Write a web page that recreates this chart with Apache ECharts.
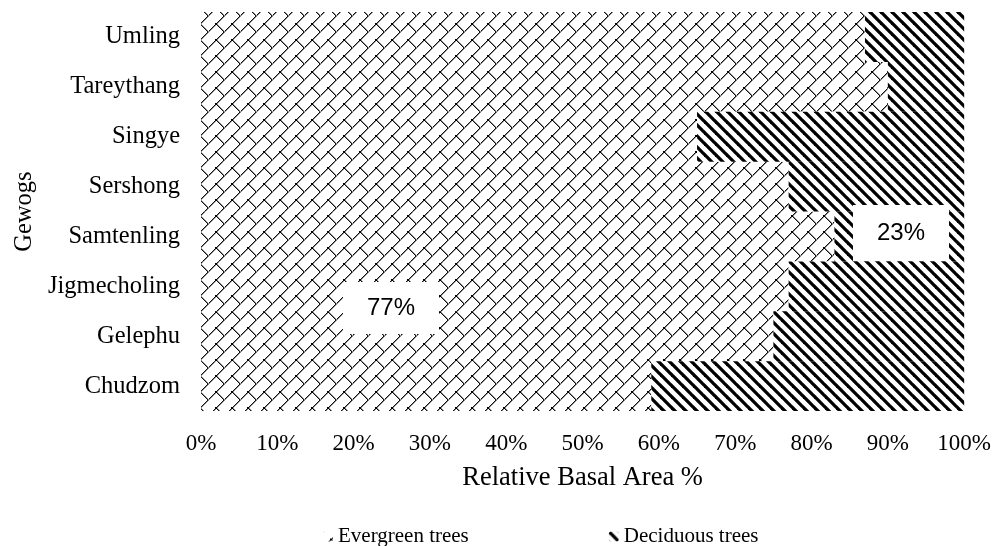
<!DOCTYPE html>
<html>
<head>
<meta charset="utf-8">
<script src="https://cdn.jsdelivr.net/npm/echarts@6/dist/echarts.min.js"></script>
<style>
html,body{margin:0;padding:0;background:#fff;}
#chart{width:994px;height:546px;}
</style>
</head>
<body>
<div id="chart"></div>
<script>
// Categories listed bottom-to-top (ECharts category y axis starts at the bottom)
const gewogs = ['Chudzom','Gelephu','Jigmecholing','Samtenling','Sershong','Singye','Tareythang','Umling'];
const evergreen = [59, 75, 77, 83, 77, 65, 90, 87];
const deciduous = [41, 25, 23, 17, 23, 35, 10, 13];
const xTicks = [0,10,20,30,40,50,60,70,80,90,100];
const summaryLabels = ['77%', '23%'];

function evergreenPattern(){
  const c = document.createElement('canvas');
  c.width = 16; c.height = 16;
  const g = c.getContext('2d');
  g.fillStyle = '#fff'; g.fillRect(0,0,16,16);
  for (let i = 0; i < 16; i++) {
    g.fillStyle = '#111'; g.fillRect(i, 15 - i, 1, 1);
    g.fillStyle = '#8a8a8a'; g.fillRect((i + 1) % 16, 15 - i, 1, 1);
  }
  for (let k = 0; k < 8; k++) {
    g.fillStyle = '#111'; g.fillRect(8 + k, 8 + k, 1, 1);
    g.fillStyle = '#8a8a8a'; g.fillRect(9 + k > 15 ? 9 + k - 16 : 9 + k, 8 + k, 1, 1);
  }
  g.fillStyle = '#000';
  g.fillRect(7,7,2,2);
  return c;
}
function deciduousPattern(){
  const s = 11;
  const c = document.createElement('canvas');
  c.width = s; c.height = s;
  const g = c.getContext('2d');
  g.fillStyle = '#fff'; g.fillRect(0,0,s,s);
  g.strokeStyle = '#000'; g.lineWidth = 3.3;
  for (const o of [-s, 0, s]) {
    g.beginPath(); g.moveTo(o - 3, -3); g.lineTo(o + s + 3, s + 3); g.stroke();
  }
  return c;
}

const chart = echarts.init(document.getElementById('chart'), null, {renderer:'canvas'});
const serif = '"Liberation Serif", "Times New Roman", serif';
chart.setOption({
  animation: false,
  backgroundColor: '#fff',
  grid: { left: 201, right: 29, top: 12, bottom: 135, containLabel: false },
  xAxis: {
    type: 'value', min: 0, max: 100, interval: 10,
    axisLine: { show: false }, axisTick: { show: false }, splitLine: { show: false },
    axisLabel: { formatter: v => v + '%', color: '#000', fontFamily: serif, fontSize: 23, margin: 21 },
    name: 'Relative Basal Area %', nameLocation: 'middle', nameGap: 54,
    nameTextStyle: { color: '#000', fontFamily: serif, fontSize: 26.5 }
  },
  yAxis: {
    type: 'category', data: gewogs,
    axisLine: { show: true, lineStyle: { color: '#d9d9d9', width: 1 } },
    axisTick: { show: false },
    axisLabel: { color: '#000', fontFamily: serif, fontSize: 24.5, margin: 21 },
    name: 'Gewogs', nameLocation: 'middle', nameGap: 164, nameRotate: 90,
    nameTextStyle: { color: '#000', fontFamily: serif, fontSize: 24.5 }
  },
  legend: {
    left: 318, top: 521, padding: 5, itemGap: 140, itemWidth: 10, itemHeight: 10,
    textStyle: { color: '#000', fontFamily: serif, fontSize: 21 },
    data: ['Evergreen trees', 'Deciduous trees']
  },
  series: [
    { name: 'Evergreen trees', type: 'bar', stack: 'a', data: evergreen, barCategoryGap: '0%',
      itemStyle: { color: { image: evergreenPattern(), repeat: 'repeat' } } },
    { name: 'Deciduous trees', type: 'bar', stack: 'a', data: deciduous, barCategoryGap: '0%',
      itemStyle: { color: { image: deciduousPattern(), repeat: 'repeat' } } }
  ],
  graphic: [
    { type: 'text', x: 391, y: 308, z: 100,
      style: { text: summaryLabels[0], fontFamily: '"Liberation Sans", Arial, sans-serif', fontSize: 24, fill: '#000',
        align: 'center', verticalAlign: 'middle', backgroundColor: '#fff', padding: [14, 24, 14, 24] } },
    { type: 'text', x: 901, y: 233, z: 100,
      style: { text: summaryLabels[1], fontFamily: '"Liberation Sans", Arial, sans-serif', fontSize: 24, fill: '#000',
        align: 'center', verticalAlign: 'middle', backgroundColor: '#fff', padding: [16, 24, 16, 24] } }
  ]
});
</script>
</body>
</html>
